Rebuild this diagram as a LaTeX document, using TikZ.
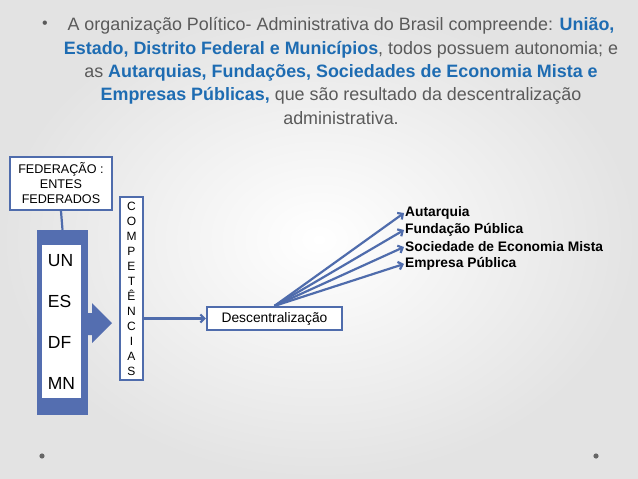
\documentclass[tikz,border=0pt]{standalone}
\usepackage{fontspec}
\setmainfont{Liberation Sans}
\usepackage{tikz}
\usetikzlibrary{arrows.meta}
\definecolor{azulborda}{RGB}{79,108,172}
\definecolor{azulfundo}{RGB}{84,110,176}
\definecolor{azultexto}{RGB}{30,108,178}
\definecolor{cinzatexto}{RGB}{90,90,90}
\tikzstyle{caixa} = [draw=azulborda, fill=white, line width=2.2pt, inner sep=2pt, align=center]
\tikzstyle{rotulo} = [anchor=west, inner sep=1pt, font=\fontsize{13.8}{16}\selectfont\bfseries]
\tikzstyle{seta} = [draw=azulborda, line width=2.2pt, -{Straight Barb[length=4pt,width=8pt]}]
\newcommand{\az}[1]{\textcolor{azultexto}{\textbf{#1}}}

\begin{document}
\begin{tikzpicture}[x=1pt, y=-1pt]
	\shade[inner color=white, outer color=black!11] (0,0) rectangle (638,479);
	\useasboundingbox (0,0) rectangle (638,479);
	% texto do topo
	\node[text=cinzatexto, font=\fontsize{16}{16}\selectfont] (marca) at (45,25) {•};
	\node[text=cinzatexto, align=center, font=\fontsize{17.9}{23.3}\selectfont] (titulo) at (341,71) {%
		A organização Político- Administrativa do Brasil compreende: \az{União,}\\
		\az{Estado, Distrito Federal e Municípios}, todos possuem autonomia; e\\
		as \az{Autarquias, Fundações, Sociedades de Economia Mista e}\\
		\az{Empresas Públicas,} que são resultado da descentralização\\
		administrativa.};
	% entes federados
	\node[caixa, minimum width=102, minimum height=53, font=\fontsize{12.6}{15}\selectfont] (fed) at (61,183.5) {FEDERAÇÃO :\\ENTES\\FEDERADOS};
	\node[fill=azulfundo, minimum width=51, minimum height=185, inner sep=0pt] (entes) at (62.5,322.5) {};
	\node[fill=white, minimum width=39, minimum height=153, inner sep=0pt, align=left, font=\fontsize{17.5}{41}\selectfont] (siglas) at (61.5,321.5) {UN\\ES\\DF\\MN};
	\draw[azulborda, line width=2.2pt] (fed.south) -- (entes.north);
	\fill[azulfundo] (87,313) -- (92,313) -- (92,303) -- (112,323) -- (92,343) -- (92,335) -- (87,335) -- cycle;
	% competencias
	\node[caixa, minimum width=23, minimum height=183, font=\fontsize{12}{15}\selectfont] (comp) at (131.5,288.5) {C\\O\\M\\P\\E\\T\\Ê\\N\\C\\I\\A\\S};
	\node[caixa, minimum width=135, minimum height=23, font=\fontsize{13.8}{16}\selectfont] (desc) at (274.5,318.5) {Descentralização};
	\draw[seta] (comp.east |- desc.west) -- (desc.west);
	% entidades da administracao indireta
	\node[rotulo] (aut) at (404,213) {Autarquia};
	\node[rotulo] (fund) at (404,230) {Fundação Pública};
	\node[rotulo] (soc) at (404,247) {Sociedade de Economia Mista};
	\node[rotulo] (emp) at (404,264) {Empresa Pública};
	\draw[seta] (desc.north) -- (aut.west);
	\draw[seta] (desc.north) -- (fund.west);
	\draw[seta] (desc.north) -- (soc.west);
	\draw[seta] (desc.north) -- (emp.west);
	% pontos do rodape
	\fill[black!60] (42,456) circle (2.6);
	\fill[black!60] (596,456) circle (2.6);
\end{tikzpicture}
\end{document}
